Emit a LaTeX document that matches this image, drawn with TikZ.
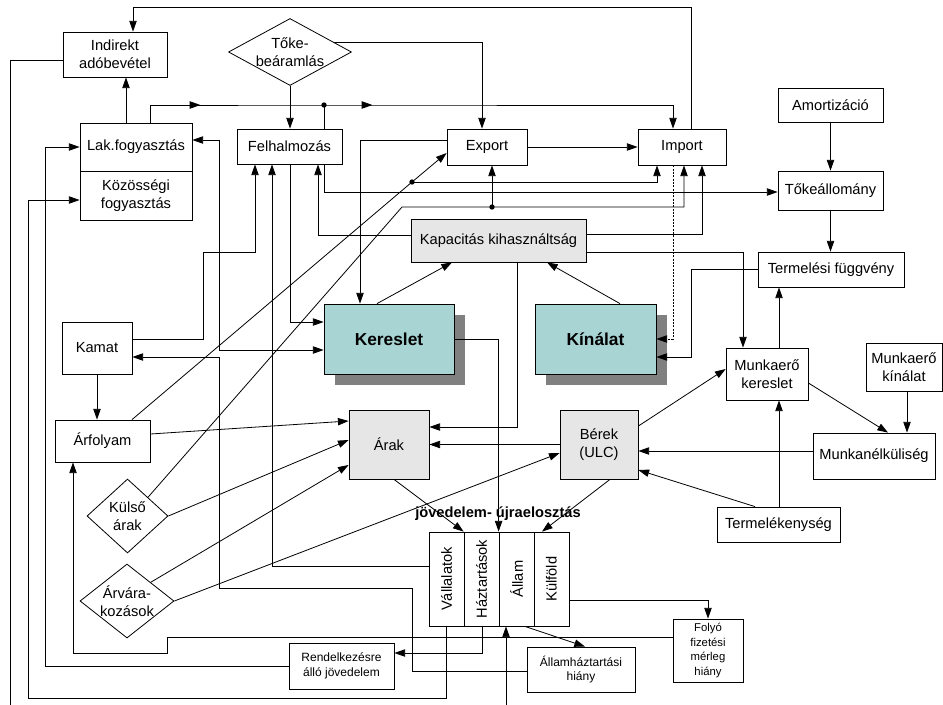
\documentclass[tikz,border=0pt]{standalone}
\usepackage{fontspec}
\setmainfont{Liberation Sans}
\usepackage{graphicx}
\usetikzlibrary{
	arrows.meta,
	shapes.geometric,
	decorations.markings,
	shadows,
	calc}
\definecolor{mainfill}{RGB}{168,212,212}
\definecolor{greyfill}{RGB}{230,230,230}
\tikzset{
	flow/.style={
		line width=.6pt,
		x=.75pt, y=-.75pt,
		every node/.style={font=\fontsize{11}{13.5}\selectfont, align=center}
		},
	box size/.style n args={2}{
		minimum width=#1*.75pt,
		minimum height=#2*.75pt
	},
	var/.style={
		rectangle,
		draw,
		fill=white,
		inner sep=1pt
	},
	grey var/.style={var, fill=greyfill},
	main var/.style={
		var,
		fill=mainfill,
		font=\fontsize{13}{15}\selectfont\bfseries,
		drop shadow={shadow xshift=8.25pt, shadow yshift=-8.25pt,
			fill=black!50, opacity=1}
	},
	small var/.style={var, font=\fontsize{9}{11}\selectfont},
	shock/.style={
		diamond,
		draw,
		fill=white,
		inner sep=0pt
	},
	link/.style={
		circle,
		fill=black,
		inner sep=0pt,
		minimum size=4pt
	},
	feed/.style={-{Triangle[length=8pt,width=5.5pt]}},
	feed both/.style={{Triangle[length=8pt,width=5.5pt]}-{Triangle[length=8pt,width=5.5pt]}},
	weak/.style={dash pattern=on 1.5pt off 1pt},
}

\begin{document}
\begin{tikzpicture}[flow]
	\useasboundingbox (0,0) rectangle (943,704);
	% blocks
	\node[var, box size={104}{45}] (indirekt) at (115,54.5) {Indirekt\\adóbevétel};
	\node[shock, aspect=1.84, box size={123}{67}] (toke) at (290,52) {Tőke-\\beáramlás};
	\node[var, box size={112}{48}] (lak) at (136,147) {Lak.fogyasztás};
	\node[var, box size={112}{49}] (kozossegi) at (136,195.5) {Közösségi\\fogyasztás};
	\node[var, box size={105}{35}] (felh) at (289.5,146.5) {Felhalmozás};
	\node[var, box size={80}{36}] (export) at (487,147) {Export};
	\node[var, box size={88}{36}] (import) at (682,147) {Import};
	\node[var, box size={105}{34}] (amort) at (830.5,105) {Amortizáció};
	\node[var, box size={105}{39}] (tokeall) at (830.5,190.5) {Tőkeállomány};
	\node[grey var, box size={175}{43}] (kapac) at (498.5,240.5) {Kapacitás kihasználtság};
	\node[var, box size={146}{35}] (termfv) at (831,269.5) {Termelési függvény};
	\node[main var, box size={130}{70}] (kereslet) at (389,339) {Kereslet};
	\node[main var, box size={121}{70}] (kinalat) at (595.5,339) {Kínálat};
	\node[var, box size={70}{52}] (kamat) at (97,348) {Kamat};
	\node[var, box size={82}{52}] (mkereslet) at (767,374) {Munkaerő\\kereslet};
	\node[var, box size={76}{48}] (mkinalat) at (904,367) {Munkaerő\\kínálat};
	\node[var, box size={95}{42}] (arfolyam) at (102.5,441) {Árfolyam};
	\node[grey var, box size={80}{69}] (arak) at (389,444.5) {Árak};
	\node[grey var, box size={78}{69}] (berek) at (599,444.5) {Bérek\\(ULC)};
	\node[var, box size={122}{46}] (munkanelk) at (874,456) {Munkanélküliség};
	\node[shock, aspect=1.1, box size={81}{74}] (kulso) at (127.5,516) {Külső\\árak};
	\node[var, box size={123}{35}] (termelek) at (778.5,524.5) {Termelékenység};
	\node[font=\fontsize{11}{13}\selectfont\bfseries] (ujraelo) at (498,514) {jövedelem- újraelosztás};
	\node[var, box size={35}{94}] (vall) at (446.5,579) {\rotatebox{90}{Vállalatok}};
	\node[var, box size={35}{94}] (haz) at (481.5,579) {\rotatebox{90}{Háztartások}};
	\node[var, box size={35}{94}] (allam) at (516.5,579) {\rotatebox{90}{Állam}};
	\node[var, box size={35}{94}] (kulfold) at (551.5,579) {\rotatebox{90}{Külföld}};
	\node[shock, aspect=1.27, box size={94}{74}] (arvara) at (127,601) {Árvára-\\kozások};
	\node[var, box size={70}{63}, font=\fontsize{8.5}{11}\selectfont] (folyo) at (708,650.5) {Folyó\\fizetési\\mérleg\\hiány};
	\node[small var, box size={105}{46}] (rendelk) at (341.5,666) {Rendelkezésre\\álló jövedelem};
	\node[small var, box size={108}{45}] (allamhaz) at (581,669.5) {Államháztartási\\hiány};
	% junctions
	\node[link] (jfelh) at (324,105) {};
	\node[link] (jarf) at (412,182) {};
	\node[link] (jkulso) at (492,207) {};
	% connectors
	\draw[feed] (import.north -| 691,0) |- (133,7) -- (indirekt.north -| 133,0);
	\draw[feed] (indirekt.west |- 0,60) -| (10,730) -| (allam.south -| 506,0);
	\draw[feed] (lak.north -| 126,0) -- (indirekt.south -| 126,0);
	\draw[feed, postaction={decorate}, decoration={markings,
		mark=at position 51pt with {\arrow{Triangle[length=8pt,width=5.5pt]}},
		mark=at position 180pt with {\arrow{Triangle[length=8pt,width=5.5pt]}}}]
		(lak.north -| 150,0) |- (jfelh.center) -| (import.north -| 673,0);
	\draw (felh.north -| jfelh) -- (jfelh.center);
	\draw[feed] (toke.south) -- (toke.south |- felh.north);
	\draw[feed] (toke.13) -| (export.north -| 482,0);
	\draw[feed] (export) -- (import);
	\draw[feed] (export.west |- 0,140) -| (kereslet.north -| 360,0);
	\draw[feed] (felh.south -| 290,0) |- (kereslet.west |- 0,322);
	\draw[feed both] (kereslet.west |- 0,350) -| (219,140) -- (lak.east |- 0,140);
	\draw[feed] (allamhaz.west |- 0,671) -| (412,588) -| (219,357) -- (kamat.east |- 0,357);
	\draw[feed] (kamat.east |- 0,339) -| (203,252) -| (felh.south -| 255,0);
	\draw[feed] (kamat.south) -- (kamat.south |- arfolyam.north);
	\draw (arfolyam.north -| 132,0) -- (jarf.center);
	\draw[feed] (jarf.center) -- (export.west |- 0,153);
	\draw[feed] (jarf.center) -| (import.south -| 657,0);
	\draw[feed] (kulso.north east) -- (402,207) -| (import.south -| 684,0);
	\draw[feed] (jkulso.center) -- (export.south -| jkulso);
	\draw[feed] (kulso.east) -- (arak.west |- 0,440);
	\draw[feed] (arfolyam.east |- 0,434) -- (arak.west |- 0,421);
	\draw[feed] (arvara.north east) -- (arak.west |- 0,465);
	\draw[feed] (arvara.east) -- (berek.west |- 0,453);
	\draw[feed] (kapac.south -| 517,0) |- (arak.east |- 0,427);
	\draw[feed] (berek.west) -- (arak.east);
	\draw[feed] (munkanelk.west |- 0,451) -- (berek.east |- 0,451);
	\draw[feed] (kereslet.east) -| (allam.north west);
	\draw[feed] (arak.south -| 394,0) -- (haz.north west);
	\draw[feed] (berek.south -| 610,0) -- (kulfold.north -| 542,0);
	\draw[feed] (kereslet.north -| 377,0) -- (kapac.south -| 452,0);
	\draw[feed] (kinalat.north -| 620,0) -- (kapac.south -| 547,0);
	\draw[feed] (kapac.west |- 0,235) -| (felh.south -| 318,0);
	\draw[feed] (felh.south -| 324,0) |- (tokeall.west |- 0,192);
	\draw[feed] (kapac.east |- 0,234) -| (import.south -| 702,0);
	\draw[feed] (kapac.east |- 0,252) -| (mkereslet.north -| 743,0);
	\draw[feed, weak] (import.south -| 673,0) |- (kinalat.east |- 0,339);
	\draw[feed] (termfv.west |- 0,269) -| (691,357) -- (kinalat.east |- 0,357);
	\draw[feed] (tokeall.south) -- (tokeall.south |- termfv.north);
	\draw[feed] (amort) -- (tokeall);
	\draw[feed] (mkereslet.north -| 779,0) -- (termfv.south -| 779,0);
	\draw[feed] (berek.east |- 0,426) -- (mkereslet.west |- 0,369);
	\draw[feed] (mkereslet.east |- 0,383) -- (munkanelk.north -| 888,0);
	\draw[feed] (mkinalat.south -| 907,0) -- (munkanelk.north -| 907,0);
	\draw[feed] (termelek.north -| 779,0) -- (mkereslet.south -| 779,0);
	\draw[feed] (termelek.north -| 755,0) -- (berek.east |- 0,470);
	\draw[feed] (vall.west |- 0,566) -| (felh.south -| 272,0);
	\draw[feed] (kulfold.east |- 0,600) -| (folyo.north);
	\draw[feed] (folyo.west |- 0,637) -| (167,653) -| (arfolyam.south -| 73,0);
	\draw[feed] (haz.south -| 482,0) |- (rendelk.east |- 0,653);
	\draw[feed] (rendelk.west) -| (45,147) -- (lak.west);
	\draw[feed] (vall.south -| 446,0) |- (28,698) |- (kozossegi.west |- 0,200);
	\draw[feed] (allam.south -| 525,0) -- (allamhaz.north -| 585,0);
\end{tikzpicture}
\end{document}
